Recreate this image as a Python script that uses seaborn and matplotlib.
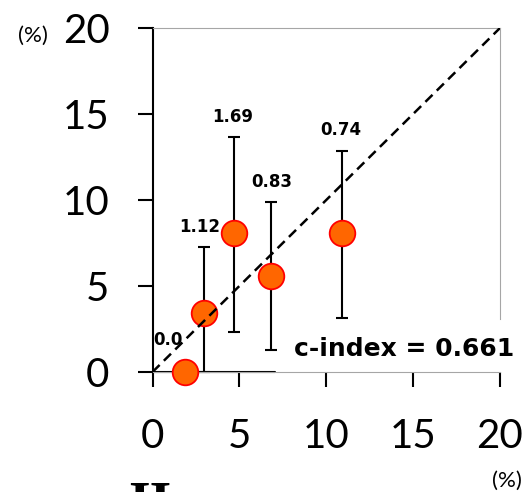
import matplotlib
matplotlib.use("Agg")
import matplotlib.pyplot as plt
import seaborn as sns
import numpy as np
import pandas as pd

# ---- data ----
predicted = [1.87, 2.96, 4.71, 6.80, 10.90]
observed = [0.0, 3.41, 8.06, 5.60, 8.06]
ci_low = [0.0, 0.0, 2.33, 1.28, 3.12]
ci_high = [0.0, 7.28, 13.68, 9.90, 12.87]
point_labels = ["0.0", "1.12", "1.69", "0.83", "0.74"]
ticks = [0, 5, 10, 15, 20]
c_index_text = "c-index = 0.661"

sns.set_theme(style="white")
plt.rcParams["font.family"] = ["Lato", "DejaVu Sans"]

fig = plt.figure(figsize=(5.29, 4.92), dpi=100)
ax = fig.add_axes([152.5 / 529, 120 / 492, 347.5 / 529, 344 / 492])
ax.set_xlim(0, 20)
ax.set_ylim(0, 20)

df = pd.DataFrame({"pred": predicted, "obs": observed})

# diagonal reference line
diag = pd.DataFrame({"x": [0, 20], "y": [0, 20]})
sns.lineplot(data=diag, x="x", y="y", ax=ax, color="black", lw=1.8,
             linestyle=(0, (4, 2.4)), zorder=4)

# error bars
yerr = np.array([[o - l for o, l in zip(observed, ci_low)],
                 [h - o for o, h in zip(observed, ci_high)]])
mask = [h > o for o, h in zip(observed, ci_high)]
ax.errorbar(np.array(predicted)[mask], np.array(observed)[mask],
            yerr=yerr[:, mask], fmt="none", ecolor="black", elinewidth=1.5,
            capsize=4, capthick=1.5, zorder=2, clip_on=False)

# points
sns.scatterplot(data=df, x="pred", y="obs", ax=ax, s=340, color="#FF6600",
                edgecolor="#FF0000", linewidth=1.3, zorder=3, clip_on=False)

# value labels
dx = [-12, -3, -1, 1, -1]
dy = [23, 14, 14, 14, 15]
for px, top, lab, ox, oy in zip(predicted, ci_high, point_labels, dx, dy):
    ax.annotate(lab, (px, top), xytext=(ox, oy), textcoords="offset points",
                ha="center", va="center", fontsize=12, fontweight="bold",
                family="DejaVu Sans", color="black", zorder=5)

# spines
for s in ["top", "right", "bottom"]:
    ax.spines[s].set_color("#A6A6A6")
    ax.spines[s].set_linewidth(0.8)
ax.spines["right"].set_bounds(3.1, 20)
ax.spines["left"].set_color("black")
ax.spines["left"].set_linewidth(1.5)
ax.plot([0, 7.05], [0, 0], color="black", lw=1.5, zorder=1.5, clip_on=False)

ax.set_xticks(ticks)
ax.set_yticks(ticks)
ax.set_xticklabels([str(t) for t in ticks])
ax.set_yticklabels([str(t) for t in ticks])
ax.tick_params(axis="both", which="major", direction="out", length=11,
               width=1.5, color="black", labelsize=29, labelcolor="black",
               bottom=True, left=True)
ax.tick_params(axis="y", pad=20)
ax.tick_params(axis="x", pad=22)
ax.set_xlabel("")
ax.set_ylabel("")

# c-index text
ax.text(404 / 529, (492 - 349) / 492, c_index_text, transform=fig.transFigure,
        ha="center", va="center", fontsize=18, fontweight="bold",
        family="DejaVu Sans", color="black")

# unit labels
fig.text(33 / 529, (492 - 36) / 492, "(%)", ha="center", va="center",
         fontsize=16, color="black")
fig.text(507 / 529, (492 - 481) / 492, "(%)", ha="center", va="center",
         fontsize=16, color="black")

# partially visible panel label (cut by the bottom edge, as in the reference)
fig.text(150 / 529, (492 - 521) / 492, "II", ha="center", va="baseline",
         fontsize=40, fontweight="bold", family="Liberation Serif",
         color="black")

fig.savefig("out.png", dpi=100)
